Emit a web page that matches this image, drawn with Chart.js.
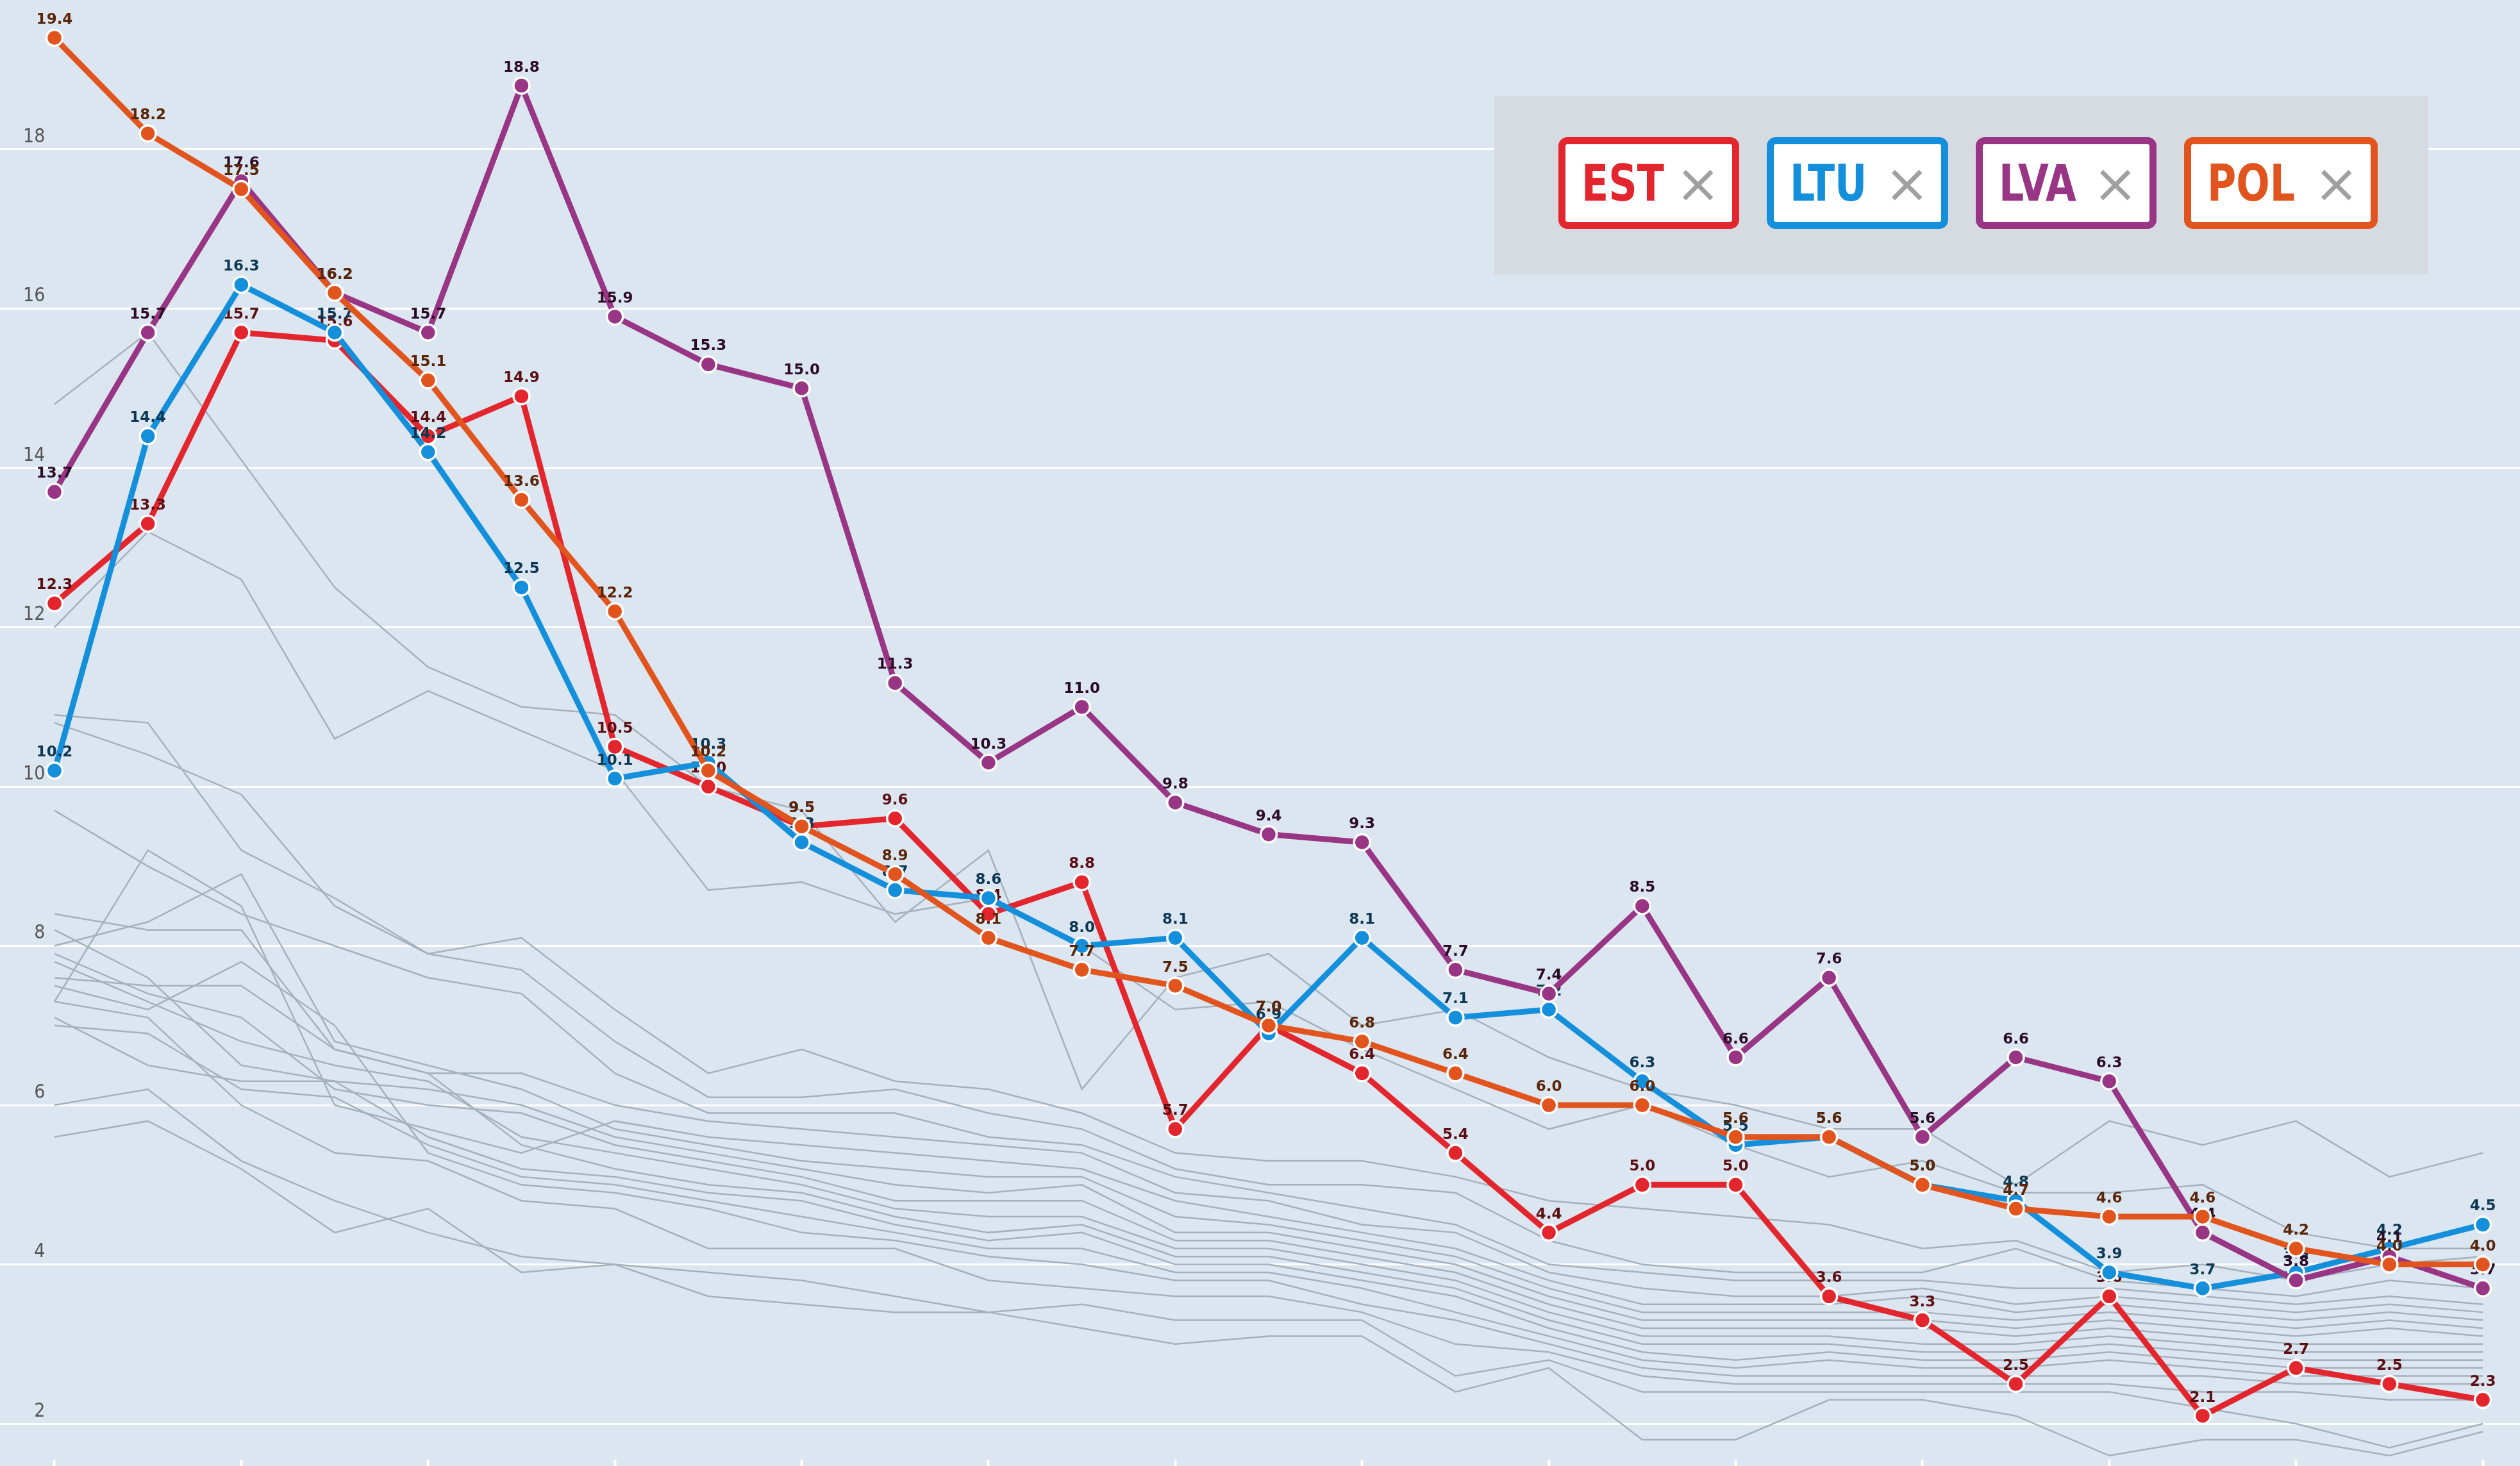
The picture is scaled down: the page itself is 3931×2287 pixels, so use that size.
<!DOCTYPE html>
<html>
<head>
<meta charset="utf-8">
<script src="https://cdn.jsdelivr.net/npm/chart.js@4.4.1/dist/chart.umd.min.js"></script>
<style>
html,body{margin:0;padding:0;background:#dce6f0;}
#wrap{position:relative;width:3931px;height:2287px;overflow:hidden;background:#dce6f0;}
#wrap canvas{position:absolute;left:0;top:0;}
#legend{position:absolute;left:2331px;top:149px;width:1457px;height:279px;background:#d5dbe1;}
.item{position:absolute;top:65px;height:143px;box-sizing:border-box;border:11px solid;border-radius:14px;background:#fff;}
.item .t{position:absolute;left:25px;top:0;bottom:0;display:flex;align-items:center;font-family:"Liberation Sans Narrow","DejaVu Sans Condensed",sans-serif;font-weight:bold;font-size:78px;line-height:1;transform:scaleX(0.88);transform-origin:0 50%;}
.item .x{position:absolute;right:18px;top:0;bottom:0;display:flex;align-items:center;font-family:"DejaVu Sans",sans-serif;font-size:84px;line-height:1;color:#a0a0a0;}
</style>
</head>
<body>
<div id="wrap">
  <canvas id="c" width="3931" height="2287"></canvas>
  <div id="legend">
    <div class="item" style="left:100px;width:282px;border-color:#e3262e;"><span class="t" style="color:#e3262e;">EST</span><span class="x">×</span></div>
    <div class="item" style="left:425px;width:283px;border-color:#138fdb;"><span class="t" style="color:#138fdb;">LTU</span><span class="x">×</span></div>
    <div class="item" style="left:751px;width:282px;border-color:#983584;"><span class="t" style="color:#983584;">LVA</span><span class="x">×</span></div>
    <div class="item" style="left:1076px;width:302px;border-color:#e2541e;"><span class="t" style="color:#e2541e;">POL</span><span class="x">×</span></div>
  </div>
</div>
<script>
// x categories (axis labels are cropped out of the picture)
const categories = [1995,1996,1997,1998,1999,2000,2001,2002,2003,2004,2005,2006,2007,2008,2009,2010,2011,2012,2013,2014,2015,2016,2017,2018,2019,2020,2021];
const yTicks = [2,4,6,8,10,12,14,16,18];

// highlighted series
const est = [12.3,13.3,15.7,15.6,14.4,14.9,10.5,10.0,9.5,9.6,8.4,8.8,5.7,7.0,6.4,5.4,4.4,5.0,5.0,3.6,3.3,2.5,3.6,2.1,2.7,2.5,2.3];
const ltu = [10.2,14.4,16.3,15.7,14.2,12.5,10.1,10.3,9.3,8.7,8.6,8.0,8.1,6.9,8.1,7.1,7.2,6.3,5.5,5.6,5.0,4.8,3.9,3.7,3.9,4.2,4.5];
const lva = [13.7,15.7,17.6,16.2,15.7,18.8,15.9,15.3,15.0,11.3,10.3,11.0,9.8,9.4,9.3,7.7,7.4,8.5,6.6,7.6,5.6,6.6,6.3,4.4,3.8,4.1,3.7];
const pol = [19.4,18.2,17.5,16.2,15.1,13.6,12.2,10.2,9.5,8.9,8.1,7.7,7.5,7.0,6.8,6.4,6.0,6.0,5.6,5.6,5.0,4.7,4.6,4.6,4.2,4.0,4.0];

// background (grey) series
const otherA = [14.8,15.7,14.1,12.5,11.5,11.0,10.9,10.0,9.7,8.3,9.2,6.2,7.6,7.9,7.0,7.2,6.6,6.2,6.0,5.7,5.7,5.0,5.8,5.5,5.8,5.1,5.4];
const otherB = [12.0,13.2,12.6,10.6,11.2,10.7,10.2,8.7,8.8,8.4,8.6,8.0,7.2,7.3,6.7,6.2,5.7,6.0,5.5,5.1,5.3,4.9,4.9,5.0,4.4,4.2,4.2];
const other01 = [10.9,10.8,9.2,8.6,7.9,8.1,7.2,6.4,6.7,6.3,6.2,5.9,5.4,5.3,5.3,5.1,4.8,4.7,4.6,4.5,4.2,4.3,3.9,4.0,3.8,4.0,4.1];
const other02 = [10.8,10.4,9.9,8.5,7.9,7.7,6.8,6.1,6.1,6.2,5.9,5.7,5.2,5.0,5.0,4.9,4.3,4.0,3.9,3.9,3.9,4.2,3.8,3.7,3.6,3.8,3.7];
const other03 = [9.7,9.0,8.4,8.0,7.6,7.4,6.4,5.9,5.9,5.9,5.6,5.5,5.1,4.9,4.7,4.5,4.0,3.9,3.8,3.8,3.8,3.7,3.7,3.6,3.5,3.6,3.5];
const other04 = [7.3,9.2,8.5,6.0,5.7,5.4,5.8,5.6,5.5,5.4,5.3,5.2,4.8,4.6,4.4,4.2,3.8,3.5,3.5,3.5,3.6,3.4,3.5,3.4,3.3,3.4,3.3];
const other05 = [8.4,8.2,8.2,6.7,6.4,6.4,6.0,5.8,5.7,5.6,5.5,5.4,4.9,4.8,4.5,4.4,3.9,3.7,3.6,3.6,3.7,3.5,3.6,3.5,3.4,3.5,3.4];
const other06 = [8.0,8.3,8.9,6.8,6.5,6.2,5.7,5.5,5.3,5.2,5.1,5.1,4.6,4.5,4.3,4.1,3.7,3.4,3.4,3.4,3.4,3.3,3.4,3.3,3.2,3.3,3.2];
const other07 = [8.2,7.6,6.5,6.3,6.2,6.0,5.6,5.4,5.2,5.0,4.9,5.0,4.4,4.4,4.2,4.0,3.6,3.3,3.3,3.3,3.3,3.2,3.3,3.2,3.1,3.2,3.1];
const other08 = [7.9,7.4,7.1,6.2,6.0,5.9,5.5,5.3,5.1,4.8,4.8,4.8,4.3,4.3,4.1,3.9,3.5,3.2,3.2,3.2,3.2,3.1,3.2,3.1,3.0,3.0,3.0];
const other09 = [7.8,7.3,6.8,6.5,6.3,5.6,5.4,5.2,5.0,4.7,4.6,4.6,4.2,4.2,4.0,3.8,3.4,3.1,3.1,3.1,3.0,3.0,3.1,3.0,2.9,2.9,2.9];
const other10 = [7.6,7.5,7.5,6.7,6.4,5.5,5.2,5.0,4.9,4.6,4.4,4.5,4.1,4.1,3.9,3.7,3.3,3.0,3.0,3.0,2.9,2.9,3.0,2.9,2.8,2.8,2.8];
const other11 = [7.1,6.5,6.3,6.3,5.6,5.2,5.1,4.9,4.8,4.5,4.3,4.4,4.0,4.0,3.8,3.6,3.2,2.9,2.8,2.9,2.8,2.8,2.9,2.8,2.7,2.7,2.7];
const other12 = [7.0,6.9,6.2,6.1,5.5,5.1,5.0,4.8,4.6,4.4,4.2,4.2,3.9,3.9,3.7,3.4,3.1,2.8,2.7,2.8,2.7,2.7,2.8,2.7,2.6,2.6,2.6];
const other13 = [7.5,7.2,7.8,7.0,5.4,5.0,4.9,4.7,4.4,4.3,4.1,4.0,3.8,3.8,3.5,3.3,3.0,2.7,2.6,2.6,2.6,2.6,2.6,2.6,2.5,2.5,2.5];
const other14 = [7.3,7.1,6.0,5.4,5.3,4.8,4.7,4.2,4.2,4.2,3.8,3.7,3.6,3.6,3.4,3.0,2.9,2.6,2.5,2.5,2.5,2.5,2.5,2.4,2.4,2.3,2.3];
const other15 = [6.0,6.2,5.3,4.8,4.4,4.1,4.0,3.9,3.8,3.6,3.4,3.5,3.3,3.3,3.3,2.6,2.8,2.4,2.4,2.4,2.4,2.4,2.4,2.2,2.0,1.7,2.0];
const other16 = [5.6,5.8,5.2,4.4,4.7,3.9,4.0,3.6,3.5,3.4,3.4,3.2,3.0,3.1,3.1,2.4,2.7,1.8,1.8,2.3,2.3,2.1,1.6,1.8,1.8,1.6,1.9];
const otherSeries = [otherA,otherB,other01,other02,other03,other04,other05,other06,other07,other08,other09,other10,other11,other12,other13,other14,other15,other16];

const toXY = arr => arr.map((v, i) => ({x: i, y: v}));

const highlight = [
  {label:'POL', data: pol, color:'#e2541e', text:'#5a2509', order:0},
  {label:'LVA', data: lva, color:'#983584', text:'#2c0c25', order:1},
  {label:'LTU', data: ltu, color:'#138fdb', text:'#0c3853', order:2},
  {label:'EST', data: est, color:'#e3262e', text:'#5c0e12', order:3}
];

const datasets = [];
highlight.forEach(h => datasets.push({
  label: h.label, data: toXY(h.data), order: h.order,
  borderColor: h.color, backgroundColor: h.color, borderWidth: 9,
  borderJoinStyle: 'round', borderCapStyle: 'round', tension: 0,
  pointRadius: 12.5, pointBorderWidth: 3.5, pointBorderColor: '#ffffff',
  pointBackgroundColor: h.color, labelColor: h.text
}));
otherSeries.forEach((s, k) => datasets.push({
  label: 'other' + k, data: toXY(s), order: 10,
  borderColor: '#a5b1ba', borderWidth: 2.5, pointRadius: 0, tension: 0
}));

// value labels drawn right after each highlighted dataset, so later series cover them
const valueLabels = {
  id: 'valueLabels',
  afterDatasetDraw(chart, args) {
    const ds = chart.data.datasets[args.index];
    if (!ds.labelColor) return;
    const ctx = chart.ctx;
    ctx.save();
    ctx.font = 'bold 23px "DejaVu Sans", sans-serif';
    ctx.textAlign = 'center';
    ctx.textBaseline = 'alphabetic';
    ctx.fillStyle = ds.labelColor;
    args.meta.data.forEach((el, i) => {
      ctx.fillText(ds.data[i].y.toFixed(1), el.x, el.y - 22);
    });
    ctx.restore();
  }
};

new Chart(document.getElementById('c'), {
  type: 'line',
  data: { datasets },
  plugins: [valueLabels],
  options: {
    responsive: false,
    devicePixelRatio: 1,
    animation: false,
    events: [],
    layout: { padding: 0, autoPadding: false },
    plugins: { legend: { display: false }, tooltip: { enabled: false } },
    scales: {
      x: {
        type: 'linear',
        min: -0.5834, max: 26.398,
        afterBuildTicks: s => { s.ticks = categories.map((c, i) => ({value: i})).filter(t => t.value % 2 === 0); },
        ticks: { display: false },
        border: { display: false },
        grid: { drawOnChartArea: false, drawTicks: true, tickLength: 10, tickColor: '#ffffff', tickWidth: 4 }
      },
      y: {
        type: 'linear',
        min: 1.55, max: 19.875,
        afterBuildTicks: s => { s.ticks = yTicks.map(v => ({value: v})); },
        afterFit: s => { s.paddingTop = 0; s.paddingBottom = 0; s.width = 0; },
        border: { display: false },
        grid: { color: '#ffffff', lineWidth: 3, drawTicks: false },
        ticks: {
          mirror: true, crossAlign: 'far', padding: 36, labelOffset: -19,
          color: '#555555',
          font: { family: '"Liberation Sans Narrow", "DejaVu Sans Condensed", sans-serif', size: 30 }
        }
      }
    }
  }
});
</script>
</body>
</html>
